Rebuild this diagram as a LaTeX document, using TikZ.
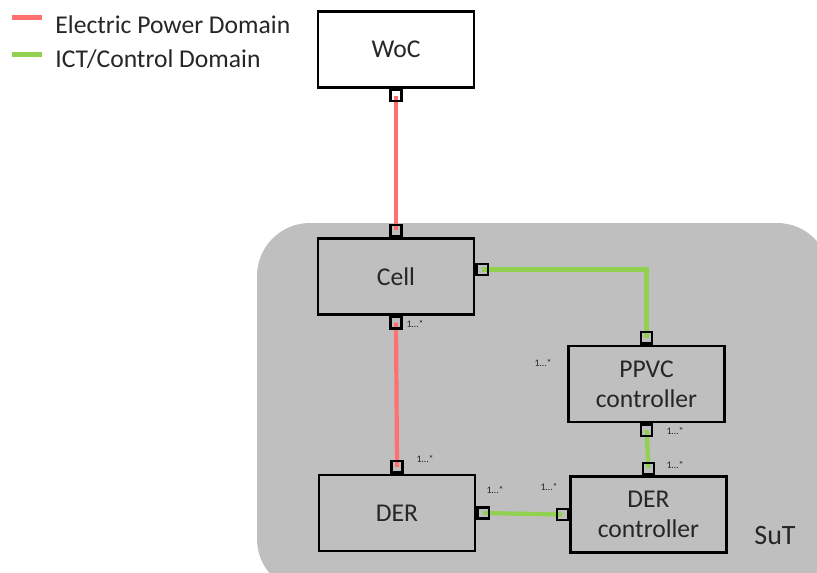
\documentclass[tikz,border=0pt]{standalone}
\usepackage{fontspec}
\setmainfont{Carlito}
\usetikzlibrary{backgrounds}
\definecolor{powerred}{RGB}{255,112,112}
\definecolor{ictgreen}{RGB}{146,208,80}
\definecolor{sutgray}{RGB}{191,191,191}
\definecolor{textgray}{RGB}{38,38,38}

\begin{document}
\begin{tikzpicture}[x=0.5pt, y=-0.5pt,
      box/.style={draw, line width=1.4pt, minimum width=78pt, minimum height=38pt,
        align=center, text=textgray, font=\fontsize{12.8}{15}\selectfont},
      port/.style={draw, line width=1.2pt, minimum size=5.6pt, inner sep=0pt},
      mult/.style={inner sep=0pt, text=textgray, font=\fontsize{5}{6}\selectfont},
      power/.style={draw=powerred, line width=2.1pt},
      ict/.style={draw=ictgreen, line width=2.1pt},
      legend/.style={anchor=base west, inner sep=0pt, text=textgray,
        font=\fontsize{12.8}{15}\selectfont}
    ]
    \useasboundingbox (0,0) rectangle (817,572);

    % Legend
    \node[legend] (leg-power) at (55,34) {Electric Power Domain};
    \node[legend] (leg-ict) at (55,68) {ICT/Control Domain};
    \draw[power] (12,17.5) -- (42,17.5);
    \draw[ict] (12,54.5) -- (42,54.5);

    % Blocks
    \node[box, fill=white] (woc) at (396,49.5) {WoC};
    \node[box] (cell) at (396,276.5) {Cell};
    \node[box] (ppvc) at (646.5,384) {PPVC\\controller};
    \node[box] (derctrl) at (648.5,514.5) {DER\\controller};
    \node[box] (der) at (397,513) {DER};
    \node[text=textgray, font=\fontsize{14}{16}\selectfont] (sut) at (775,536) {SuT};

    % Ports
    \node[port, anchor=north] (woc-s) at (woc.south) {};
    \node[port, anchor=south] (cell-n) at (cell.north) {};
    \node[port, anchor=north] (cell-s) at (cell.south) {};
    \node[port, anchor=west] (cell-e) at ([yshift=3.5pt]cell.east) {};
    \node[port, anchor=south] (ppvc-n) at (ppvc.north) {};
    \node[port, anchor=north] (ppvc-s) at (ppvc.south) {};
    \node[port, anchor=south] (derctrl-n) at (derctrl.north) {};
    \node[port, anchor=east] (derctrl-w) at (derctrl.west) {};
    \node[port, anchor=south] (der-n) at (der.north) {};
    \node[port, anchor=west] (der-e) at (der.east) {};

    % Multiplicities
    \node[mult] (m-cell-s) at (415,324) {1…*};
    \node[mult] (m-ppvc-w) at (543,363) {1…*};
    \node[mult] (m-ppvc-s) at (675,431) {1…*};
    \node[mult] (m-derctrl-n) at (675,465) {1…*};
    \node[mult] (m-der-n) at (425,459) {1…*};
    \node[mult] (m-der-e) at (495,490) {1…*};
    \node[mult] (m-derctrl-w) at (549,487) {1…*};

    % SuT area and links
    \begin{scope}[on background layer]
      \clip (0,0) rectangle (817,572);
      \fill[sutgray, rounded corners=26.5pt] (257,223) rectangle (830,592);
      \draw[power] (woc-s.center) -- (cell-n.center);
      \draw[power] (cell-s.center) -- (der-n.center);
      \draw[ict] (cell-e.center) -| (ppvc-n.center);
      \draw[ict] (ppvc-s.center) -- (derctrl-n.center);
      \draw[ict] (der-e.center) -- (derctrl-w.center);
    \end{scope}
  \end{tikzpicture}
\end{document}
